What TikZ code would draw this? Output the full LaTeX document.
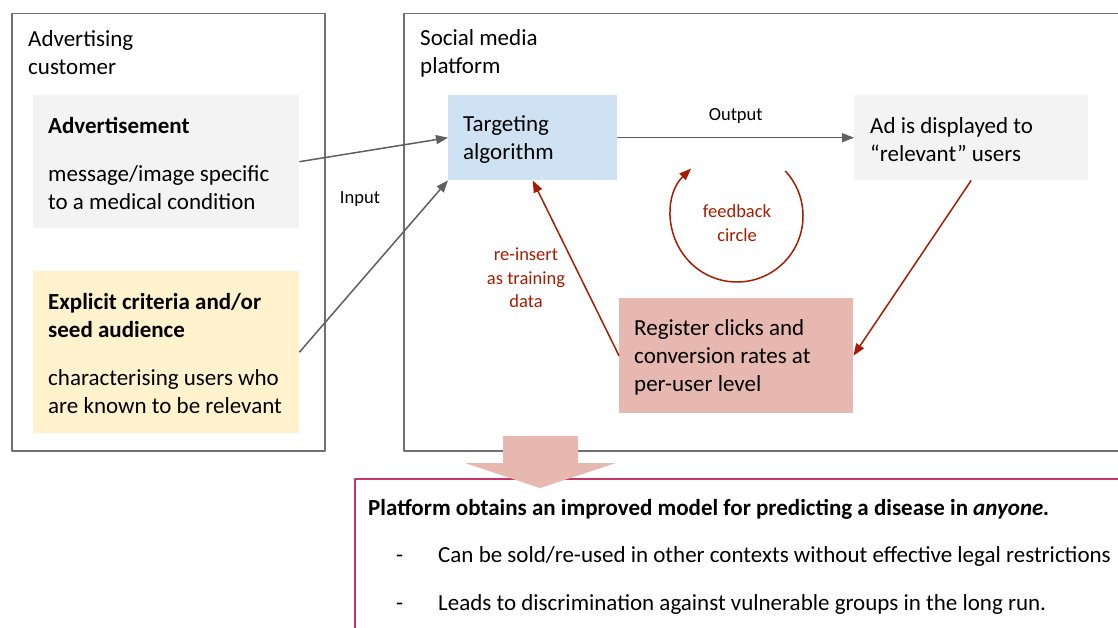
\documentclass[tikz,border=0pt]{standalone}
\usepackage{fontspec}
\setmainfont{Carlito}
\usetikzlibrary{arrows.meta,positioning}
\definecolor{framegray}{HTML}{707070}
\definecolor{linkgray}{HTML}{5F5F5F}
\definecolor{boxgray}{HTML}{F3F3F3}
\definecolor{boxblue}{HTML}{CFE2F3}
\definecolor{boxyellow}{HTML}{FFF2CC}
\definecolor{boxred}{HTML}{E6B8AF}
\definecolor{darkred}{HTML}{A61C00}
\definecolor{claimred}{HTML}{CC3366}
\newcommand{\boxfont}{\fontsize{23}{28}\selectfont}
\newcommand{\notefont}{\fontsize{18.5}{23.5}\selectfont}
\newcommand{\claimfont}{\fontsize{23}{28}\selectfont}
\begin{document}
\begin{tikzpicture}[x=1pt,y=-1pt,line join=round,>={Triangle[length=12pt,width=9pt]}]
\tikzset{
  panel/.style={draw=framegray,line width=1.5pt,anchor=north west,inner sep=0pt},
  card/.style={anchor=north west,inner sep=0pt},
  cardtext/.style={anchor=west,align=left,inner sep=0pt,font=\boxfont,yshift=-1.5pt},
  title/.style={anchor=north west,align=left,inner sep=0pt,font=\boxfont},
  note/.style={align=center,inner sep=0pt,font=\notefont},
  link/.style={->,draw=linkgray,line width=1.5pt},
  redlink/.style={->,draw=darkred,line width=1.5pt},
}
\useasboundingbox (0,0) rectangle (1118,628);
\clip (0,0) rectangle (1118,628);
% the two parties
\node[panel,minimum width=313pt,minimum height=437pt] (cust) at (11,13) {};
\node[panel,minimum width=800pt,minimum height=437pt] (platf) at (403,13) {};
\node[title,below right=17pt and 17pt of cust.north west] (custtitle) {Advertising\\customer};
\node[title,below right=16pt and 17pt of platf.north west] (platftitle) {Social media\\platform};
% what the customer hands in
\node[card,fill=boxgray,minimum width=266pt,minimum height=133pt] (advert) at (33,95) {};
\node[cardtext] (adverttxt) at ([xshift=15pt]advert.west) {\textbf{Advertisement}\\[20pt]message/image specific\\to a medical condition};
\node[card,fill=boxyellow,minimum width=266pt,minimum height=162pt] (crit) at (33,271) {};
\node[cardtext] (crittxt) at ([xshift=15pt]crit.west) {\textbf{Explicit criteria and/or}\\\textbf{seed audience}\\[20pt]characterising users who\\are known to be relevant};
% inside the platform
\node[card,fill=boxblue,minimum width=169pt,minimum height=85pt] (algo) at (448,95) {};
\node[cardtext] (algotxt) at ([xshift=15pt]algo.west) {Targeting\\algorithm};
\node[card,fill=boxgray,minimum width=234pt,minimum height=85pt] (shown) at (854,95) {};
\node[cardtext] (showntxt) at ([xshift=16pt]shown.west) {Ad is displayed to\\“relevant” users};
\node[card,fill=boxred,minimum width=234pt,minimum height=115pt] (reg) at (619,298) {};
\node[cardtext] (regtxt) at ([xshift=15pt]reg.west) {Register clicks and\\conversion rates at\\per-user level};
% connectors
\draw[link] (advert.east) -- (algo.west);
\draw[link] (crit.east) -- (algo.south west);
\node[note] (input) at (360,199) {Input};
\draw[link] (algo.east) -- node[note,above=13pt] (output) {Output} (shown.west);
\draw[redlink] (shown.south) -- (reg.east);
\draw[redlink] (reg.west) -- (algo.south);
\node[note,text=darkred] (reins) at (526,278) {re-insert\\as training\\data};
\coordinate (fbc) at (737,216);
\draw[redlink] ([shift={(-43:66)}]fbc) arc[start angle=-43,end angle=226,radius=66];
\node[note,text=darkred] (fb) at (737,223) {feedback\\circle};
% the consequence
\node[panel,draw=claimred,line width=2pt,minimum width=800pt,minimum height=200pt] (claim) at (354,478) {};
\node[anchor=base west,inner sep=0pt,font=\claimfont\bfseries] (claimhead) at (368,515) {Platform obtains an improved model for predicting a disease in \textit{anyone.}};
\foreach \txt [count=\i] in {Can be sold/re-used in other contexts without effective legal restrictions,Leads to discrimination against vulnerable groups in the long run.}{
  \node[anchor=base west,inner sep=0pt,font=\claimfont] (dash\i) at (396,{514+48*\i}) {-};
  \node[anchor=base west,inner sep=0pt,font=\claimfont] (point\i) at (438,{514+48*\i}) {\txt};
}
\fill[boxred] (503,436) -- (578,436) -- (578,463) -- (616,463) -- (540,488) -- (465,463) -- (503,463) -- cycle;
\end{tikzpicture}
\end{document}
